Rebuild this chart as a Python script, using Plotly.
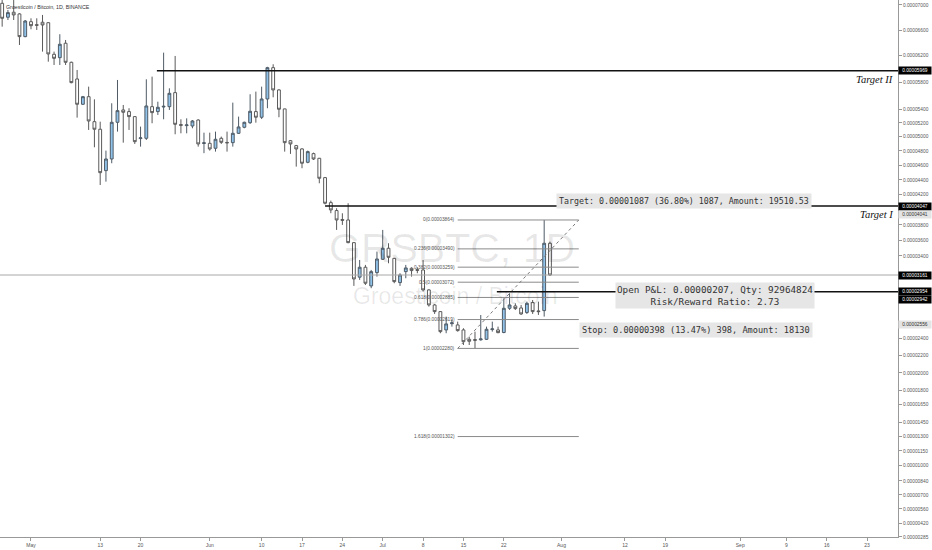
import numpy as np
import pandas as pd
import plotly.graph_objects as go

# ---------------- data (prices in satoshi = 1e-8 BTC) ----------------
dates = pd.date_range("2019-04-26", "2019-07-30", freq="D")

open_sat = [7027, 6803, 6883, 6856, 6496, 6732, 6685, 6723, 6716, 6222,
            6170, 6393, 6099, 5846, 5470, 5582, 5217, 5108, 4527, 4688,
            5208, 5387, 5363, 5290, 4975, 4979, 5435, 5363, 5430, 5435,
            5642, 5175, 5160, 5155, 5241, 4905, 4908, 4838, 4979, 4920,
            4917, 5050, 5136, 5202, 5363, 5281, 5548, 6017, 5682, 5402,
            4945, 4875, 4829, 4642, 4763, 4698, 4431, 4093, 3988, 3870,
            3864, 3570, 3134, 3258, 3026, 3191, 3358, 3498, 3370, 3067,
            3203, 3245, 3228, 3224, 2977, 2794, 2714, 2496, 2570, 2555,
            2496, 2386, 2383, 2380, 2386, 2500, 2496, 2466, 2754, 2782,
            2758, 2704, 2824, 2722, 2726, 3562]
high_sat = [7080, 6920, 7080, 6867, 6759, 6786, 6786, 6840, 6722, 6263,
            6534, 6444, 6108, 5982, 5593, 5731, 5543, 5217, 4805, 5485,
            5831, 5460, 5412, 5295, 5146, 5841, 5881, 5508, 6247, 5706,
            6196, 5251, 5265, 5241, 5251, 5059, 5059, 5074, 5003, 5074,
            5494, 5290, 5217, 5618, 5657, 5731, 6030, 6069, 5692, 5405,
            4955, 4885, 4838, 4805, 4777, 4702, 4440, 4120, 4019, 3952,
            4085, 3575, 3349, 3287, 3224, 3455, 3734, 3562, 3375, 3183,
            3287, 3258, 3258, 3349, 2985, 2806, 2716, 2654, 2614, 2594,
            2516, 2417, 2476, 2673, 2535, 2594, 2535, 2874, 2936, 2814,
            2794, 2834, 2854, 2834, 3864, 3583]
low_sat = [6653, 6759, 6759, 6366, 6487, 6612, 6601, 6263, 6108, 6058,
           6058, 6058, 5781, 5275, 5460, 5098, 4852, 4331, 4376, 4629,
           5074, 4917, 5098, 4899, 4861, 4955, 5194, 5314, 5251, 5387,
           5036, 5050, 5050, 5122, 4861, 4769, 4805, 4791, 4899, 4791,
           4861, 5040, 5122, 5184, 5202, 5255, 5412, 5573, 5281, 4791,
           4759, 4582, 4560, 4629, 4674, 4354, 4070, 3953, 3734, 3799,
           3562, 3026, 3100, 3038, 2998, 3141, 3349, 3308, 3059, 3026,
           3121, 3141, 3183, 2956, 2774, 2686, 2457, 2457, 2535, 2476,
           2320, 2320, 2280, 2370, 2378, 2476, 2457, 2457, 2734, 2734,
           2674, 2686, 2686, 2674, 2654, 3150]
close_sat = [6786, 6877, 6840, 6496, 6743, 6669, 6675, 6680, 6227, 6160,
             6377, 6099, 5791, 5470, 5582, 5227, 5108, 4499, 4688, 5208,
             5377, 5353, 5290, 4931, 4985, 5445, 5348, 5426, 5440, 5632,
             5179, 5165, 5170, 5227, 4899, 4915, 4828, 4965, 4922, 4915,
             5050, 5141, 5208, 5368, 5281, 5548, 6017, 5682, 5397, 4917,
             4899, 4828, 4629, 4791, 4688, 4422, 4085, 3996, 3864, 3860,
             3570, 3112, 3258, 3059, 3203, 3362, 3498, 3383, 3079, 3162,
             3249, 3216, 3220, 2977, 2794, 2714, 2476, 2567, 2580, 2488,
             2358, 2363, 2375, 2390, 2504, 2508, 2464, 2754, 2794, 2750,
             2686, 2814, 2714, 2714, 3562, 3161]

y_ticks_sat = [7000, 6600, 6200, 5800, 5400, 5200, 5000, 4800, 4600, 4400,
               4200, 3800, 3600, 3400, 2400, 2200, 2000, 1800, 1650, 1450,
               1300, 1150, 1000, 840, 700, 560, 420, 285]

x_tick_dates = ["2019-05-01", "2019-05-13", "2019-05-20", "2019-06-01",
                "2019-06-10", "2019-06-17", "2019-06-24", "2019-07-01",
                "2019-07-08", "2019-07-15", "2019-07-22", "2019-08-01",
                "2019-08-12", "2019-08-19", "2019-09-01", "2019-09-09",
                "2019-09-16", "2019-09-23"]
x_tick_labels = ["May", "13", "20", "Jun", "10", "17", "24", "Jul", "8",
                 "15", "22", "Aug", "12", "19", "Sep", "9", "16", "23"]

fib_ratios = ["0", "0.236", "0.382", "0.5", "0.618", "0.786", "1", "1.618"]
fib_prices_sat = [3864, 3490, 3259, 3072, 2885, 2619, 2280, 1302]
fib_start, fib_end = "2019-07-14", "2019-08-04"

target2_sat, target1_sat = 5969, 4047
entry_sat, entry2_sat = 2954, 2942
pos_target_sat, pos_stop_sat = 4041, 2556
last_sat = 3161

# ---------------- helpers ----------------
OFFSET = 9640  # price-scale warp of the source chart


def ys(v):
    return np.log(np.asarray(v, dtype=float) + OFFSET)


def fmt(v):
    return f"{v * 1e-8:.8f}"


X_RANGE = ["2019-04-25 15:00", "2019-09-28 08:40"]
Y_RANGE = [9.2028, 9.7244]
PLOT_W, PLOT_H = 898, 537

fig = go.Figure()

fig.add_trace(go.Candlestick(
    x=dates, open=ys(open_sat), high=ys(high_sat), low=ys(low_sat), close=ys(close_sat),
    increasing=dict(fillcolor="#90c3ea", line=dict(color="#4f5b66", width=1)),
    decreasing=dict(fillcolor="#ffffff", line=dict(color="#5a5a5a", width=1)),
    whiskerwidth=0, showlegend=False, hoverinfo="skip",
))

shapes = []
# fib levels
for p in fib_prices_sat:
    shapes.append(dict(type="line", xref="x", yref="y", x0=fib_start, x1=fib_end,
                       y0=float(ys(p)), y1=float(ys(p)),
                       line=dict(color="#8a8a8a", width=1)))
shapes.append(dict(type="line", xref="x", yref="y", x0=fib_start, x1=fib_end,
                   y0=float(ys(fib_prices_sat[6])), y1=float(ys(fib_prices_sat[0])),
                   line=dict(color="#7a7a7a", width=1, dash="dot")))
# horizontal levels
shapes.append(dict(type="line", xref="paper", yref="y", x0=0, x1=1,
                   y0=float(ys(last_sat)), y1=float(ys(last_sat)),
                   line=dict(color="#a8a8a8", width=1)))
for start, lvl in [("2019-05-22 20:00", target2_sat), ("2019-06-21", target1_sat),
                   ("2019-07-20 19:00", entry_sat)]:
    shapes.append(dict(type="line", xref="x", yref="y", x0=start, x1=X_RANGE[1],
                       y0=float(ys(lvl)), y1=float(ys(lvl)),
                       line=dict(color="#111111", width=1.5)))

ann = []
# title
ann.append(dict(xref="paper", yref="paper", x=0.004, y=1 - 7 / PLOT_H, xanchor="left",
                yanchor="middle", showarrow=False, text="Groestlcoin / Bitcoin, 1D, BINANCE",
                font=dict(family="Liberation Sans", size=5.3, color="#333333")))
# watermark
ann.append(dict(xref="paper", yref="paper", x=452 / PLOT_W, y=1 - 248 / PLOT_H,
                showarrow=False, text="GRSBTC, 1D",
                font=dict(family="Liberation Sans", size=41, color="rgba(0,0,0,0.09)")))
ann.append(dict(xref="paper", yref="paper", x=455 / PLOT_W, y=1 - 296 / PLOT_H,
                showarrow=False, text="Groestlcoin / Bitcoin",
                font=dict(family="Liberation Sans", size=23, color="rgba(0,0,0,0.09)")))
# fib labels
for r, p in zip(fib_ratios, fib_prices_sat):
    ann.append(dict(xref="x", yref="y", x=fib_start, y=float(ys(p)), xanchor="right",
                    yanchor="middle", xshift=-1, showarrow=False,
                    text=f"{r}({fmt(p)})",
                    font=dict(family="Liberation Sans", size=4.8, color="#555555")))
# position tool boxes
ann.append(dict(xref="paper", yref="paper", x=812 / PLOT_W, y=1 - 200.5 / PLOT_H,
                xanchor="right", yanchor="middle", showarrow=False,
                text="Target: 0.00001087 (36.80%) 1087, Amount: 19510.53",
                bgcolor="#e6e6e6", borderpad=2,
                font=dict(family="DejaVu Sans Mono", size=8.3, color="#333333")))
ann.append(dict(xref="paper", yref="paper", x=815 / PLOT_W, y=1 - 295.5 / PLOT_H,
                xanchor="right", yanchor="middle", showarrow=False, align="center",
                text="Open P&amp;L: 0.00000207, Qty: 92964824<br>Risk/Reward Ratio: 2.73",
                bgcolor="#e6e6e6", borderpad=1,
                font=dict(family="DejaVu Sans Mono", size=9.3, color="#333333")))
ann.append(dict(xref="paper", yref="paper", x=813 / PLOT_W, y=1 - 330 / PLOT_H,
                xanchor="right", yanchor="middle", showarrow=False,
                text="Stop: 0.00000398 (13.47%) 398, Amount: 18130",
                bgcolor="#e6e6e6", borderpad=2,
                font=dict(family="DejaVu Sans Mono", size=8.6, color="#333333")))
# target names
for lvl, name in [(target2_sat, "Target II"), (target1_sat, "Target I")]:
    ann.append(dict(xref="paper", yref="y", x=895 / PLOT_W, y=float(ys(lvl)),
                    xanchor="right", yanchor="top", yshift=-1, showarrow=False,
                    text=f"<i>{name}</i>",
                    font=dict(family="Liberation Serif", size=10.5, color="#111111")))
# price-axis badges
badges = [(target2_sat, 0, "#000000", "#ffffff"), (target1_sat, 0, "#000000", "#ffffff"),
          (pos_target_sat, -8, "#e4e4e4", "#333333"), (last_sat, 0, "#000000", "#ffffff"),
          (entry_sat, 0, "#000000", "#ffffff"), (entry2_sat, -7, "#000000", "#ffffff"),
          (pos_stop_sat, 0, "#e4e4e4", "#333333")]
for v, shift, bg, fc in badges:
    ann.append(dict(xref="paper", yref="y", x=1.0, y=float(ys(v)), xanchor="left",
                    yanchor="middle", yshift=shift, showarrow=False, text=fmt(v),
                    bgcolor=bg, borderpad=1, width=30,
                    font=dict(family="Liberation Sans", size=4.8, color=fc)))

fig.update_layout(
    width=932, height=550,
    margin=dict(l=0, r=34, t=0, b=13),
    paper_bgcolor="white", plot_bgcolor="white",
    shapes=shapes, annotations=ann,
    xaxis=dict(type="date", range=X_RANGE, showgrid=False, zeroline=False,
               rangeslider=dict(visible=False),
               tickmode="array", tickvals=x_tick_dates, ticktext=x_tick_labels,
               ticks="outside", ticklen=3, tickcolor="#999999",
               showline=True, linecolor="#999999", linewidth=1,
               tickfont=dict(family="Liberation Sans", size=5, color="#555555")),
    yaxis=dict(side="right", range=Y_RANGE, showgrid=False, zeroline=False,
               tickmode="array", tickvals=ys(y_ticks_sat).tolist(),
               ticktext=[fmt(v) for v in y_ticks_sat],
               ticks="outside", ticklen=3, tickcolor="#999999",
               showline=True, linecolor="#999999", linewidth=1,
               tickfont=dict(family="Liberation Sans", size=4.8, color="#555555")),
    hovermode=False,
)

fig.write_html("out.html", config={"displayModeBar": False},
               post_script="document.body.style.margin='0';document.body.style.overflow='hidden';")
